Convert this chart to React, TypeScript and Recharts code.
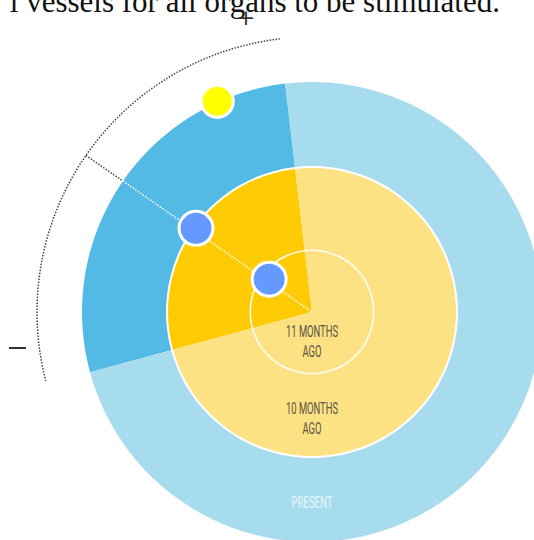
import React from 'react';
import { PieChart, Pie, Cell } from 'recharts';

const CX = 312;
const CY = 312;

// sector spans, degrees (counter-clockwise from 3 o'clock)
const START_ANGLE = 96.7;
const outerRing = [
  { name: 'selected', value: 98.5 },
  { name: 'rest', value: 261.5 },
];
const middleRing = [
  { name: 'selected', value: 98.5 },
  { name: 'rest', value: 261.5 },
];
const outerColors = ['#52bae4', '#a7dcef'];
const middleColors = ['#ffcb05', '#fde283'];

const ringLabels = [
  { lines: ['11 MONTHS', 'AGO'], widths: [52, 19], y: 337, color: '#5a5148' },
  { lines: ['10 MONTHS', 'AGO'], widths: [52, 19], y: 414, color: '#5a5148' },
  { lines: ['PRESENT'], widths: [41], y: 508, color: '#e4f4fb' },
];

// markers: angle in degrees, radius in px
const markers = [
  { angle: 114.2, r: 231, fill: '#ffff00', size: 16 },
  { angle: 144.2, r: 143, fill: '#6699ff', size: 17 },
  { angle: 142.5, r: 54, fill: '#6699ff', size: 17 },
];
const scaleArc = { r: 275, from: 96.7, to: 194.5 };
const guideAngle = 145.3;

const pt = (angle: number, r: number) => {
  const a = (angle * Math.PI) / 180;
  return { x: CX + r * Math.cos(a), y: CY - r * Math.sin(a) };
};

const Overlay = () => {
  const a0 = pt(scaleArc.from, scaleArc.r);
  const a1 = pt(scaleArc.to, scaleArc.r);
  const g0 = pt(guideAngle, scaleArc.r);
  const g1 = pt(guideAngle, 230);
  const font = 'Roboto, "DejaVu Sans", sans-serif';
  return (
    <svg
      width={534}
      height={540}
      style={{ position: 'absolute', left: 0, top: 0, pointerEvents: 'none' }}
    >
      <text x={500} y={12} textAnchor="end" fontFamily='"Liberation Serif", "DejaVu Serif", serif' fontSize={31} fill="#111">
        l vessels for all organs to be stimulated.
      </text>
      <text x={246} y={25} textAnchor="middle" fontFamily="DejaVu Sans, sans-serif" fontSize={22} fill="#333">+</text>
      <rect x={9} y={347} width={17} height={2} fill="#333" />
      <path
        d={`M${a0.x},${a0.y} A${scaleArc.r},${scaleArc.r} 0 0 0 ${a1.x},${a1.y}`}
        fill="none"
        stroke="#444"
        strokeWidth={1.5}
        strokeDasharray="1.5 1.5"
      />
      <line x1={g0.x} y1={g0.y} x2={g1.x} y2={g1.y} stroke="#444" strokeWidth={1.5} strokeDasharray="1.5 1.5" />
      <line x1={g1.x} y1={g1.y} x2={CX} y2={CY} stroke="#fff" strokeWidth={1.5} strokeDasharray="1.5 1.5" />
      {markers.map((m, i) => {
        const p = pt(m.angle, m.r);
        return <circle key={i} cx={p.x} cy={p.y} r={m.size} fill={m.fill} stroke="#fff" strokeWidth={3} />;
      })}
      {ringLabels.map((l, i) =>
        l.lines.map((s, j) => (
          <text
            key={`${i}-${j}`}
            x={CX}
            y={l.y + j * 19.5}
            textAnchor="middle"
            fontFamily={font}
            fontSize={16.5}
            fill={l.color}
            textLength={l.widths[j]}
            lengthAdjust="spacingAndGlyphs"
          >
            {s}
          </text>
        ))
      )}
    </svg>
  );
};

export default function App() {
  return (
    <div style={{ position: 'absolute', left: 0, top: 0, width: 534, height: 540 }}>
      <PieChart width={534} height={540} margin={{ top: 0, right: 0, bottom: 0, left: 0 }}>
        <Pie
          data={outerRing}
          dataKey="value"
          cx={CX}
          cy={CY}
          innerRadius={145}
          outerRadius={230}
          startAngle={START_ANGLE}
          endAngle={START_ANGLE + 360}
          stroke="none"
          isAnimationActive={false}
        >
          {outerRing.map((d, i) => (
            <Cell key={d.name} fill={outerColors[i]} />
          ))}
        </Pie>
        <Pie
          data={middleRing}
          dataKey="value"
          cx={CX}
          cy={CY}
          innerRadius={0}
          outerRadius={145}
          startAngle={START_ANGLE}
          endAngle={START_ANGLE + 360}
          stroke="none"
          isAnimationActive={false}
        >
          {middleRing.map((d, i) => (
            <Cell key={d.name} fill={middleColors[i]} />
          ))}
        </Pie>
        <Pie
          data={[{ value: 1 }]}
          dataKey="value"
          cx={CX}
          cy={CY}
          innerRadius={144}
          outerRadius={146}
          fill="#ffffff"
          stroke="none"
          isAnimationActive={false}
        />
        <Pie
          data={[{ value: 1 }]}
          dataKey="value"
          cx={CX}
          cy={CY}
          innerRadius={61}
          outerRadius={62.5}
          fill="#ffffff"
          stroke="none"
          isAnimationActive={false}
        />
      </PieChart>
      <Overlay />
    </div>
  );
}
